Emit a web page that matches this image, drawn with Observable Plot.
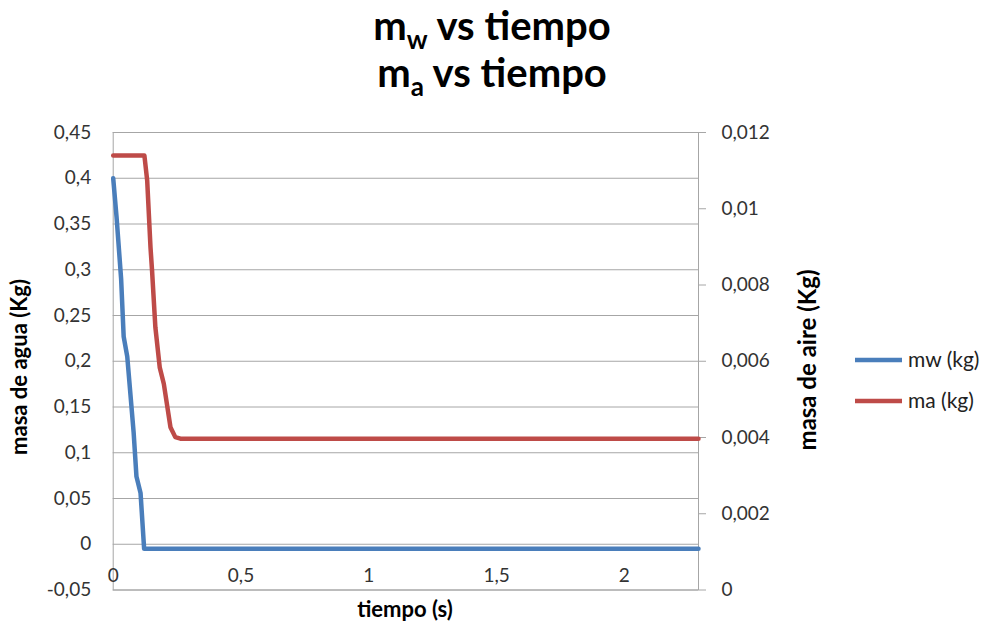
<!DOCTYPE html>
<html><head><meta charset="utf-8">
<script src="https://cdn.jsdelivr.net/npm/d3@7"></script>
<script src="https://cdn.jsdelivr.net/npm/@observablehq/plot@0.6"></script>
<style>body{margin:0;background:#fff}#chart{width:990px;height:626px}</style>
</head><body><div id="chart"></div>
<script>
// --- data ---
const timeW = [0, 0.013, 0.031, 0.041, 0.055, 0.080, 0.091, 0.107, 0.121, 2.29];
const mw    = [0.400, 0.358, 0.290, 0.227, 0.205, 0.122, 0.074, 0.056, -0.005, -0.005];
const timeA = [0, 0.122, 0.133, 0.146, 0.152, 0.165, 0.182, 0.198, 0.224, 0.243, 0.263, 2.29];
const ma    = [0.0114, 0.0114, 0.01074, 0.00898, 0.00838, 0.00689, 0.00584, 0.00541, 0.00427, 0.00401, 0.00397, 0.00397];
const leftTicks  = [-0.05, 0, 0.05, 0.1, 0.15, 0.2, 0.25, 0.3, 0.35, 0.4, 0.45];
const rightTicks = [0, 0.002, 0.004, 0.006, 0.008, 0.01, 0.012];
const xTicks = [0, 0.5, 1, 1.5, 2];
const seriesNames = ["mw (kg)", "ma (kg)"];
const colors = ["#4a7ebb", "#be4b48"];
const titleLines = [["m", "w", " vs tiempo"], ["m", "a", " vs tiempo"]];
const xLabel = "tiempo (s)";
const yLabelLeft = "masa de agua (Kg)";
const yLabelRight = "masa de aire (Kg)";

// right axis maps [0, 0.012] onto left [-0.05, 0.45]
const toLeft = r => -0.05 + r / 0.012 * 0.5;
const fromLeft = v => (v + 0.05) / 0.5 * 0.012;
const comma = s => s.replace(".", ",");

const W = timeW.map((t, i) => ({t, v: mw[i]}));
const A = timeA.map((t, i) => ({t, v: toLeft(ma[i])}));

const mL = 112.7, mR = 292, mT = 132, mB = 36.5;
const plot = Plot.plot({
  width: 990, height: 626,
  marginLeft: mL, marginRight: mR, marginTop: mT, marginBottom: mB,
  style: {fontFamily: "Lato, sans-serif", fontSize: "19px", color: "#333", background: "#fff"},
  x: {domain: [0, 2.29]},
  y: {domain: [-0.05, 0.45]},
  marks: [
    Plot.gridY(leftTicks, {stroke: "#a6a6a6", strokeOpacity: 1}),
    Plot.frame({stroke: "#a6a6a6"}),
    Plot.axisY({anchor: "left", ticks: leftTicks, tickSize: 0, tickPadding: 22, label: null,
      tickFormat: d => comma(String(+d.toFixed(2)))}),
    Plot.axisY({anchor: "right", ticks: rightTicks.map(toLeft), tickSize: 7, tickPadding: 16, label: null,
      stroke: "#a6a6a6", tickFormat: d => comma(String(+fromLeft(d).toFixed(3)))}),
    Plot.axisX({anchor: "bottom", ticks: xTicks, tickSize: 0, tickPadding: -22, label: null,
      tickFormat: d => comma(String(d))}),
    Plot.line(W, {x: "t", y: "v", stroke: colors[0], strokeWidth: 4.5, strokeLinejoin: "round"}),
    Plot.line(A, {x: "t", y: "v", stroke: colors[1], strokeWidth: 4.5, strokeLinejoin: "round"})
  ]
});
document.getElementById("chart").appendChild(plot);

const svg = d3.select(plot);
// title
titleLines.forEach((parts, i) => {
  const t = svg.append("text").attr("x", 492).attr("y", 40 + i * 47)
    .attr("text-anchor", "middle").attr("font-family", "Lato, sans-serif")
    .attr("font-weight", "bold").attr("font-size", 40).attr("fill", "#000");
  t.append("tspan").text(parts[0]);
  t.append("tspan").attr("font-size", 26).attr("dy", 9).text(parts[1]);
  t.append("tspan").attr("dy", -9).text(parts[2]);
});
// axis labels
svg.append("text").attr("transform", "translate(27,367) rotate(-90)")
  .attr("text-anchor", "middle").attr("font-family", "Lato, sans-serif")
  .attr("font-weight", "bold").attr("font-size", 22).attr("fill", "#000").text(yLabelLeft);
svg.append("text").attr("transform", "translate(816,360) rotate(-90)")
  .attr("text-anchor", "middle").attr("font-family", "Lato, sans-serif")
  .attr("font-weight", "bold").attr("font-size", 24).attr("fill", "#000").text(yLabelRight);
svg.append("text").attr("x", 405).attr("y", 617)
  .attr("text-anchor", "middle").attr("font-family", "Lato, sans-serif")
  .attr("font-weight", "bold").attr("font-size", 22).attr("fill", "#000").text(xLabel);
// legend
seriesNames.forEach((name, i) => {
  const y = 360 + i * 41;
  svg.append("line").attr("x1", 855).attr("x2", 902).attr("y1", y).attr("y2", y)
    .attr("stroke", colors[i]).attr("stroke-width", 4.5);
  svg.append("text").attr("x", 908).attr("y", y).attr("dy", "0.35em")
    .attr("text-anchor", "start")
    .attr("font-family", "Lato, sans-serif").attr("font-size", 21).attr("fill", "#222").text(name);
});
</script></body></html>
